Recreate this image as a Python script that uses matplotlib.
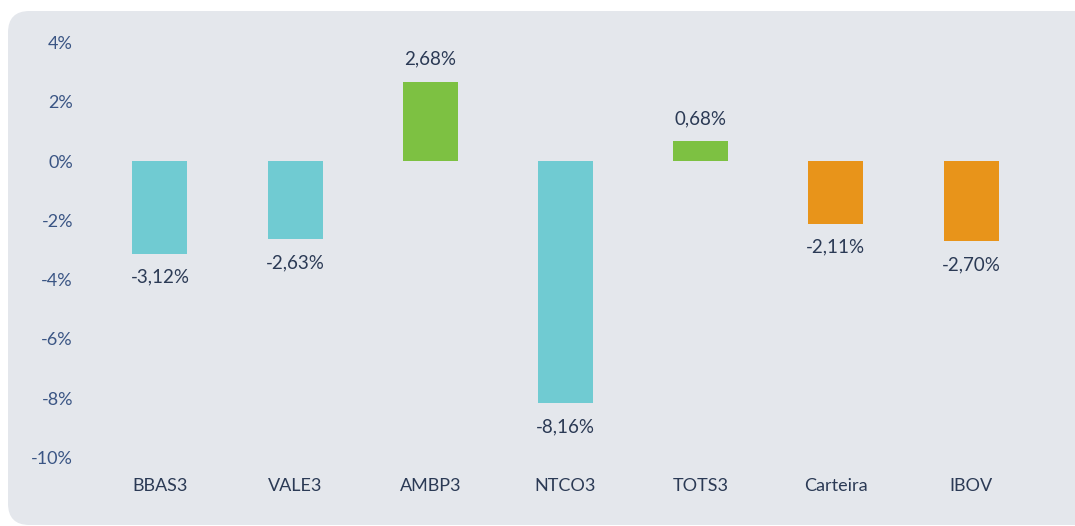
import matplotlib
matplotlib.use('Agg')
import matplotlib.pyplot as plt
from matplotlib.patches import FancyBboxPatch

# data
tickers = ['BBAS3', 'VALE3', 'AMBP3', 'NTCO3', 'TOTS3', 'Carteira', 'IBOV']
returns = [-3.12, -2.63, 2.68, -8.16, 0.68, -2.11, -2.70]
y_ticks = [4, 2, 0, -2, -4, -6, -8, -10]

TEAL = '#70CBD2'
GREEN = '#7DC142'
ORANGE = '#E8941A'
BG = '#E4E7EC'
LABEL = '#2B3A55'
TICK = '#3A5584'

colors = []
for t, r in zip(tickers, returns):
    if t in ('Carteira', 'IBOV'):
        colors.append(ORANGE)
    elif r >= 0:
        colors.append(GREEN)
    else:
        colors.append(TEAL)

plt.rcParams['font.family'] = ['Lato', 'DejaVu Sans']

fig = plt.figure(figsize=(10.75, 5.26), dpi=100)
W, H = 1075, 526

# rounded background panel (drawn behind the axes)
panel = FancyBboxPatch((8 / W, 1 / H), 1.2, (H - 12) / H,
                       boxstyle='round,pad=0,rounding_size=0.02',
                       transform=fig.transFigure, facecolor=BG,
                       edgecolor='none', mutation_aspect=W / H, zorder=-1)
fig.patches.append(panel)

ax = fig.add_axes([92.4 / W, (H - 457.5) / H, 946.2 / W, (457.5 - 42.4) / H])
ax.set_facecolor('none')

x = range(len(tickers))
ax.bar(x, returns, width=0.407, color=colors, zorder=2)

for xi, r in zip(x, returns):
    txt = f'{r:.2f}%'.replace('.', ',')
    if r >= 0:
        ax.annotate(txt, (xi, r), xytext=(0, 10), textcoords='offset points',
                    ha='center', va='bottom', fontsize=13.5, color=LABEL)
    else:
        ax.annotate(txt, (xi, r), xytext=(0, -11), textcoords='offset points',
                    ha='center', va='top', fontsize=13.5, color=LABEL)

ax.set_xlim(-0.5, len(tickers) - 0.5)
ax.set_ylim(-10, 4)
ax.set_yticks(y_ticks)
ax.set_yticklabels([f'{v}%' for v in y_ticks])
ax.set_xticks(list(x))
ax.set_xticklabels(tickers)
ax.tick_params(axis='y', length=0, pad=14, labelsize=13, labelcolor=TICK)
ax.tick_params(axis='x', length=0, pad=15, labelsize=13, labelcolor=LABEL)
for s in ax.spines.values():
    s.set_visible(False)

fig.savefig('out.png', dpi=100)
